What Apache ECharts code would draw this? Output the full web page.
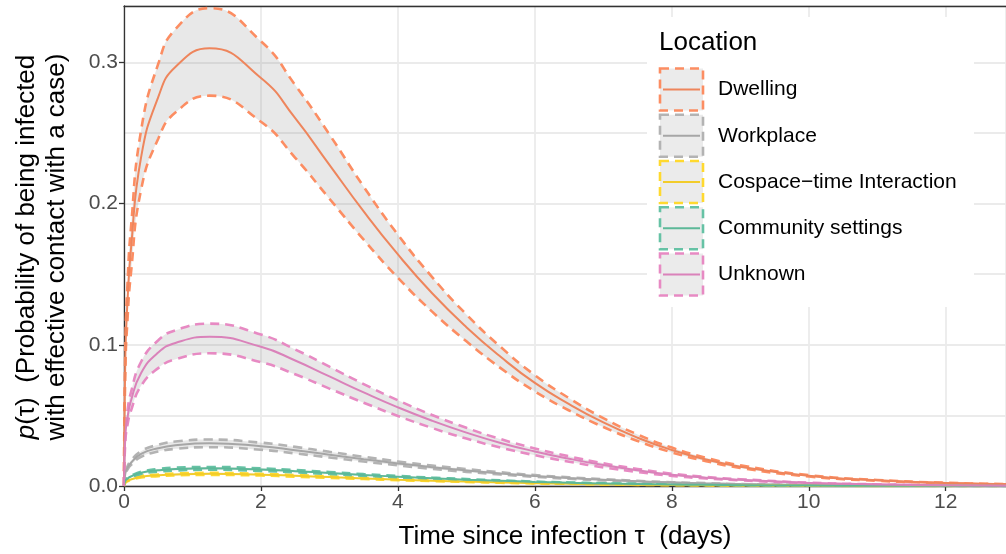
<!DOCTYPE html>
<html>
<head>
<meta charset="utf-8">
<script src="https://cdn.jsdelivr.net/npm/echarts@6/dist/echarts.min.js"></script>
<style>
html,body{margin:0;padding:0;background:#fff;}
#chart{width:1006px;height:554px;}
</style>
</head>
<body>
<div id="chart"></div>
<script>
// ---- data ----
const tau = [0, 0.02, 0.05, 0.1, 0.25, 0.5, 0.75, 1.25, 2, 2.5, 3, 3.5, 4, 4.5, 5, 5.5, 6, 6.5, 7, 7.5, 8, 8.5, 9, 10, 11, 12, 13];

const locations = ["Dwelling", "Workplace", "Cospace\u2212time Interaction", "Community settings", "Unknown"];

const dwellingMean  = [0, 0.093, 0.130, 0.167, 0.233, 0.2755, 0.2968, 0.310, 0.289, 0.2605, 0.2275, 0.1945, 0.164, 0.1365, 0.1125, 0.0915, 0.073, 0.058, 0.045, 0.0342, 0.0255, 0.0188, 0.0137, 0.0072, 0.0040, 0.0022, 0.0012];
const dwellingUpper = [0, 0.102, 0.142, 0.182, 0.252, 0.299, 0.3235, 0.3385, 0.315, 0.284, 0.249, 0.212, 0.178, 0.148, 0.1215, 0.0985, 0.0785, 0.0622, 0.0481, 0.0365, 0.0272, 0.020, 0.0146, 0.0077, 0.0043, 0.0023, 0.0013];
const dwellingLower = [0, 0.083, 0.117, 0.150, 0.210, 0.246, 0.2645, 0.2765, 0.258, 0.2325, 0.2035, 0.1745, 0.1475, 0.1235, 0.1025, 0.0835, 0.0670, 0.0535, 0.0418, 0.0319, 0.0238, 0.0176, 0.0128, 0.0067, 0.0037, 0.0020, 0.0011];

const workplaceMean  = [0, 0.0090, 0.0127, 0.0163, 0.0227, 0.0268, 0.0289, 0.0302, 0.0282, 0.0254, 0.0222, 0.0190, 0.0160, 0.0133, 0.0110, 0.0089, 0.0071, 0.0056, 0.0044, 0.0033, 0.0025, 0.0018, 0.0013, 0.0007, 0.0004, 0.0002, 0.0001];
const workplaceUpper = [0, 0.0098, 0.0138, 0.0178, 0.0247, 0.0292, 0.0315, 0.0329, 0.0307, 0.0277, 0.0242, 0.0207, 0.0174, 0.0145, 0.0120, 0.0097, 0.0077, 0.0061, 0.0048, 0.0036, 0.0027, 0.0020, 0.0014, 0.0008, 0.0004, 0.0002, 0.0001];
const workplaceLower = [0, 0.0082, 0.0116, 0.0148, 0.0207, 0.0244, 0.0263, 0.0275, 0.0257, 0.0231, 0.0202, 0.0173, 0.0146, 0.0121, 0.0100, 0.0081, 0.0065, 0.0051, 0.0040, 0.0030, 0.0023, 0.0016, 0.0012, 0.0006, 0.0004, 0.0002, 0.0001];

const cospaceMean  = [0, 0.0026, 0.0036, 0.0046, 0.0065, 0.0076, 0.0082, 0.0086, 0.0080, 0.0072, 0.0063, 0.0054, 0.0045, 0.0038, 0.0031, 0.0025, 0.0020, 0.0016, 0.0012, 0.0009, 0.0007, 0.0005, 0.0004, 0.0002, 0.0001, 0.0001, 0];
const cospaceUpper = [0, 0.0028, 0.0039, 0.0050, 0.0070, 0.0082, 0.0089, 0.0093, 0.0086, 0.0078, 0.0068, 0.0058, 0.0049, 0.0041, 0.0033, 0.0027, 0.0022, 0.0017, 0.0013, 0.0010, 0.0008, 0.0005, 0.0004, 0.0002, 0.0001, 0.0001, 0];
const cospaceLower = [0, 0.0024, 0.0033, 0.0042, 0.0060, 0.0070, 0.0075, 0.0079, 0.0074, 0.0066, 0.0058, 0.0050, 0.0041, 0.0035, 0.0029, 0.0023, 0.0018, 0.0015, 0.0011, 0.0008, 0.0006, 0.0005, 0.0004, 0.0002, 0.0001, 0.0001, 0];

const communityMean  = [0, 0.0037, 0.0052, 0.0067, 0.0094, 0.0111, 0.0120, 0.0125, 0.0116, 0.0105, 0.0092, 0.0078, 0.0066, 0.0055, 0.0045, 0.0037, 0.0029, 0.0023, 0.0018, 0.0014, 0.0010, 0.0008, 0.0006, 0.0003, 0.0002, 0.0001, 0];
const communityUpper = [0, 0.0040, 0.0056, 0.0072, 0.0101, 0.0120, 0.0130, 0.0135, 0.0125, 0.0113, 0.0099, 0.0084, 0.0071, 0.0059, 0.0049, 0.0040, 0.0031, 0.0025, 0.0019, 0.0015, 0.0011, 0.0009, 0.0006, 0.0003, 0.0002, 0.0001, 0];
const communityLower = [0, 0.0034, 0.0048, 0.0062, 0.0086, 0.0102, 0.0110, 0.0115, 0.0107, 0.0097, 0.0085, 0.0072, 0.0061, 0.0051, 0.0041, 0.0034, 0.0027, 0.0021, 0.0017, 0.0013, 0.0009, 0.0007, 0.0006, 0.0003, 0.0002, 0.0001, 0];

const unknownMean  = [0, 0.036, 0.048, 0.060, 0.080, 0.0945, 0.1013, 0.1057, 0.0986, 0.0889, 0.0776, 0.0663, 0.0557, 0.0462, 0.0378, 0.0305, 0.0245, 0.0193, 0.0148, 0.0111, 0.0080, 0.0059, 0.0044, 0.0022, 0.0011, 0.0005, 0.0002];
const unknownUpper = [0, 0.040, 0.053, 0.066, 0.088, 0.1032, 0.1103, 0.1150, 0.1073, 0.0967, 0.0845, 0.0722, 0.0607, 0.0503, 0.0412, 0.0332, 0.0266, 0.0210, 0.0161, 0.0121, 0.0087, 0.0064, 0.0048, 0.0024, 0.0012, 0.0005, 0.0002];
const unknownLower = [0, 0.032, 0.043, 0.053, 0.071, 0.0835, 0.0897, 0.0940, 0.0877, 0.0791, 0.0690, 0.0590, 0.0496, 0.0411, 0.0336, 0.0272, 0.0218, 0.0172, 0.0132, 0.0099, 0.0072, 0.0053, 0.0040, 0.0020, 0.0010, 0.0005, 0.0002];

const yTicks = [0, 0.1, 0.2, 0.3];
const xTicks = [0, 2, 4, 6, 8, 10, 12];

// ---- styling ----
const dashColors = ["#FC8D62", "#B3B3B3", "#FFD92F", "#66C2A5", "#E78AC3"];
const lineColors = ["#EE855C", "#A6A6A6", "#F2CC2A", "#5DB898", "#DA82BA"];
const ribbonFill = "rgba(128,128,128,0.18)";

const groups = [
  [dwellingMean, dwellingUpper, dwellingLower],
  [workplaceMean, workplaceUpper, workplaceLower],
  [cospaceMean, cospaceUpper, cospaceLower],
  [communityMean, communityUpper, communityLower],
  [unknownMean, unknownUpper, unknownLower]
];

function pairs(ys) { return tau.map((t, i) => [t, ys[i]]); }
// value first so the stacked dimension is the probability (y) dimension
function stackPairs(ys) { return tau.map((t, i) => [ys[i], t]); }
function stackDiffPairs(up, lo) { return tau.map((t, i) => [up[i] - lo[i], t]); }

const series = [];
const common = { type: 'line', symbol: 'none', showSymbol: false, smooth: true, silent: true, animation: false };
// ribbons (stacked: lower bound + band width)
groups.forEach((g, k) => {
  series.push(Object.assign({}, common, {
    name: 'base' + k, stack: 'band' + k, data: stackPairs(g[2]),
    dimensions: ['p', 't'], encode: { x: 1, y: 0 },
    lineStyle: { opacity: 0, width: 0 }, z: 2
  }));
  series.push(Object.assign({}, common, {
    name: 'band' + k, stack: 'band' + k, data: stackDiffPairs(g[1], g[2]),
    dimensions: ['p', 't'], encode: { x: 1, y: 0 },
    lineStyle: { opacity: 0, width: 0 }, areaStyle: { color: ribbonFill, opacity: 1 }, z: 2
  }));
});
// dashed bounds
groups.forEach((g, k) => {
  [g[1], g[2]].forEach((arr, j) => {
    series.push(Object.assign({}, common, {
      name: 'bound' + k + '_' + j, data: pairs(arr),
      lineStyle: { color: dashColors[k], width: 2.6, type: [9, 6] }, z: 3
    }));
  });
});
// means
groups.forEach((g, k) => {
  series.push(Object.assign({}, common, {
    name: locations[k], data: pairs(g[0]),
    lineStyle: { color: lineColors[k], width: 2 }, z: 4
  }));
});

// ---- legend (drawn as graphics) ----
const legendX = 659, legendY0 = 89.5, legendStep = 46.25;
const legendGraphics = [
  { type: 'rect', shape: { x: 647, y: 17, width: 327, height: 290 }, style: { fill: '#ffffff' }, z: 50 },
  { type: 'text', x: 659, y: 43, style: { text: 'Location', fontSize: 26, fontFamily: 'Liberation Sans', fill: '#000', verticalAlign: 'middle', align: 'left' }, z: 51 }
];
locations.forEach((name, k) => {
  const cy = legendY0 + k * legendStep;
  legendGraphics.push({ type: 'rect', shape: { x: legendX + 1, y: cy - 21, width: 43, height: 42 },
    style: { fill: '#EBEBEB', stroke: dashColors[k], lineWidth: 2.6, lineDash: [9, 6] }, z: 51 });
  legendGraphics.push({ type: 'line', shape: { x1: legendX + 4, y1: cy, x2: legendX + 41, y2: cy },
    style: { stroke: lineColors[k], lineWidth: 2 }, z: 52 });
  legendGraphics.push({ type: 'text', x: 718, y: cy, style: { text: name, fontSize: 21, fontFamily: 'Liberation Sans', fill: '#000', verticalAlign: 'middle', align: 'left' }, z: 52 });
});

// axis titles
const titleGraphics = [
  { type: 'text', x: 565, y: 537, style: { text: 'Time since infection \u03C4  (days)', fontSize: 26, fontFamily: 'Liberation Sans', fill: '#000', align: 'center', verticalAlign: 'middle' } },
  { type: 'text', x: 27, y: 247, rotation: Math.PI / 2, style: { text: '{i|p}(\u03C4)  (Probability of being infected', fontSize: 26, fontFamily: 'Liberation Sans', fill: '#000', align: 'center', verticalAlign: 'middle', rich: { i: { fontStyle: 'italic', fontSize: 26, fontFamily: 'Liberation Sans' } } } },
  { type: 'text', x: 57, y: 247, rotation: Math.PI / 2, style: { text: 'with effective contact with a case)', fontSize: 26, fontFamily: 'Liberation Sans', fill: '#000', align: 'center', verticalAlign: 'middle' } }
];

const chart = echarts.init(document.getElementById('chart'), null, { renderer: 'canvas' });
chart.setOption({
  animation: false,
  backgroundColor: '#ffffff',
  grid: { left: 124, right: 0, top: 6, bottom: 68, containLabel: false },
  xAxis: [
    { type: 'value', min: 0, max: 12.88, interval: 2, position: 'bottom',
      axisLine: { show: true, onZero: false, lineStyle: { color: '#333333', width: 1.3 } },
      axisTick: { show: true, length: 5, lineStyle: { color: '#333333', width: 1.3 } },
      axisLabel: { color: '#4D4D4D', fontSize: 21, fontFamily: 'Liberation Sans', margin: 6, showMaxLabel: false,
        formatter: v => xTicks.indexOf(v) >= 0 ? String(v) : '' },
      splitLine: { show: true, lineStyle: { color: '#EBEBEB', width: 1.8 } } },
    { type: 'value', min: 0, max: 12.88, interval: 2, position: 'top',
      axisLine: { show: true, onZero: false, lineStyle: { color: '#333333', width: 1.3 } },
      axisTick: { show: false }, axisLabel: { show: false }, splitLine: { show: false } }
  ],
  yAxis: [
    { type: 'value', min: 0, max: 0.34, interval: 0.1, position: 'left',
      axisLine: { show: true, onZero: false, lineStyle: { color: '#333333', width: 1.3 } },
      axisTick: { show: true, length: 5, lineStyle: { color: '#333333', width: 1.3 } },
      axisLabel: { color: '#4D4D4D', fontSize: 21, fontFamily: 'Liberation Sans', margin: 6, showMaxLabel: false,
        formatter: v => { const m = yTicks.find(t => Math.abs(t - v) < 1e-9); return m === undefined ? '' : m.toFixed(1); } },
      splitLine: { show: false } },
    { type: 'value', min: 0, max: 0.34, interval: 0.05, position: 'right',
      axisLine: { show: false }, axisTick: { show: false }, axisLabel: { show: false },
      splitLine: { show: true, lineStyle: { color: '#EBEBEB', width: 1.8 } } }
  ],
  series: series,
  graphic: legendGraphics.concat(titleGraphics)
});
</script>
</body>
</html>
